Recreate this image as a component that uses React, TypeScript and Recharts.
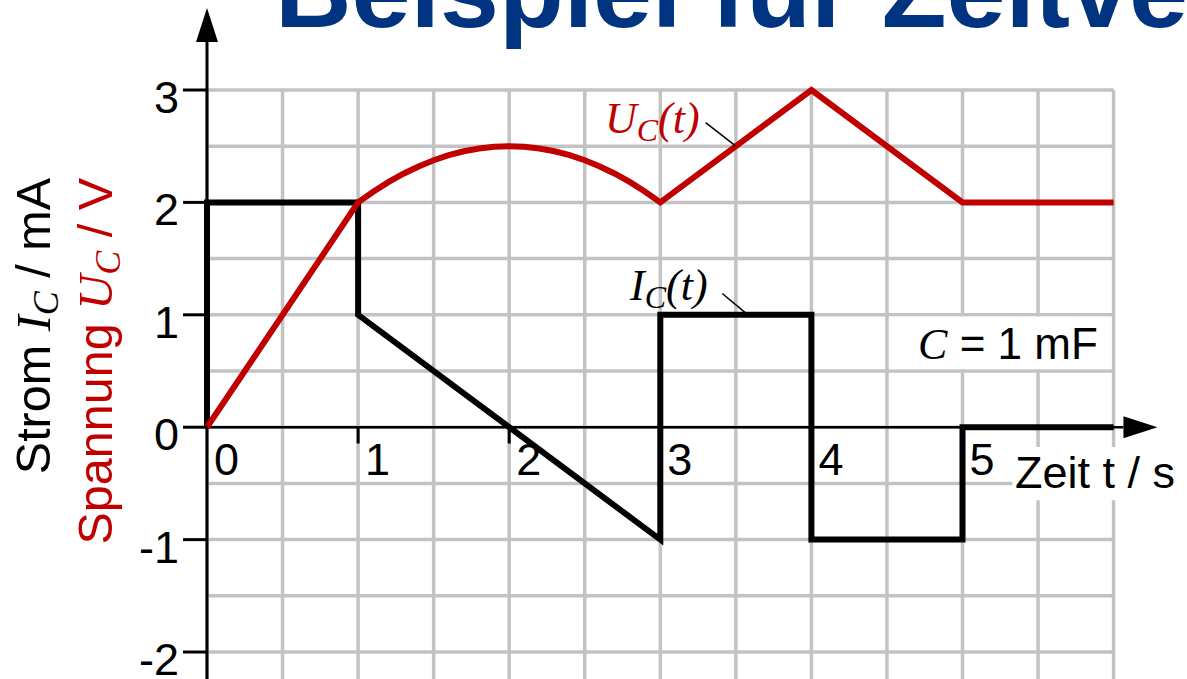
import React from 'react';
import {
  LineChart,
  Line,
  XAxis,
  YAxis,
  CartesianGrid,
  ReferenceLine,
  ReferenceDot,
  ReferenceArea,
  Customized,
} from 'recharts';

// Capacitor current I_C(t) in mA (step-wise, with a ramp between 1 s and 3 s)
const currentTimes = [0, 0, 1, 1, 3, 3, 4, 4, 5, 5, 6];
const currentValues = [0, 2, 2, 1, -1, 1, 1, -1, -1, 0, 0];

// Capacitor voltage U_C(t) in V
const voltageTimes = [
  0, 1, 1.1, 1.2, 1.3, 1.4, 1.5, 1.6, 1.7, 1.8, 1.9, 2, 2.1, 2.2, 2.3, 2.4, 2.5,
  2.6, 2.7, 2.8, 2.9, 3, 4, 5, 6,
];
const voltageValues = [
  0, 2, 2.095, 2.18, 2.255, 2.32, 2.375, 2.42, 2.455, 2.48, 2.495, 2.5, 2.495,
  2.48, 2.455, 2.42, 2.375, 2.32, 2.255, 2.18, 2.095, 2, 3, 2, 2,
];

const xTicks = [0, 1, 2, 3, 4, 5];
const xTickLabels = ['0', '1', '2', '3', '4', '5'];
const yTicks = [-2, -1, 0, 1, 2, 3];
const gridX = [0, 0.5, 1, 1.5, 2, 2.5, 3, 3.5, 4, 4.5, 5, 5.5, 6];
const gridY = [-2, -1.5, -1, -0.5, 0, 0.5, 1, 1.5, 2, 2.5, 3];

const currentData = currentTimes.map((t, i) => ({ t, v: currentValues[i] }));
const voltageData = voltageTimes.map((t, i) => ({ t, v: voltageValues[i] }));

const SANS = '"Liberation Sans", Arial, sans-serif';
const SERIF = '"Liberation Serif", "Times New Roman", serif';
const RED = '#c00000';
const GRID = '#c3c3c3';
const FS = 45;

const W = 1187;
const H = 679;

// axis line with a filled arrow head at its far end
const arrowShape = (strokeWidth: number) => (p: any) => {
  const x1 = Number(p.x1);
  const y1 = Number(p.y1);
  const x2 = Number(p.x2);
  const y2 = Number(p.y2);
  const dx = x2 - x1;
  const dy = y2 - y1;
  const len = Math.hypot(dx, dy) || 1;
  const ux = dx / len;
  const uy = dy / len;
  const L = 34;
  const hw = 11;
  const bx = x2 - ux * L;
  const by = y2 - uy * L;
  const nx = -uy;
  const ny = ux;
  return (
    <g>
      <line x1={x1} y1={y1} x2={bx} y2={by} stroke="#000" strokeWidth={strokeWidth} />
      <polygon
        points={`${x2},${y2} ${bx + nx * hw},${by + ny * hw} ${bx - nx * hw},${by - ny * hw}`}
        fill="#000"
      />
    </g>
  );
};

const YTick = (p: any) => (
  <text
    x={p.x - 2}
    y={p.y + 23}
    textAnchor="end"
    fontSize={FS}
    fontFamily={SANS}
    fill="#000"
  >
    {String(p.payload.value)}
  </text>
);

const Titles = () => (
  <g>
    <text x={275} y={27} fontSize={106} fontWeight="bold" fontFamily={SANS} fill="#003380">
      Beispiel für Zeitverläufe
    </text>
    <text
      x={50}
      y={178}
      transform="rotate(-90 50 178)"
      textAnchor="end"
      fontSize={48.5}
      fontFamily={SANS}
      fill="#000"
    >
      Strom{' '}
      <tspan fontFamily={SERIF} fontStyle="italic">I</tspan>
      <tspan fontFamily={SERIF} fontStyle="italic" fontSize={36} dy={8}>C</tspan>
      <tspan dy={-8}> / mA</tspan>
    </text>
    <text
      x={112}
      y={178}
      transform="rotate(-90 112 178)"
      textAnchor="end"
      fontSize={48.5}
      fontFamily={SANS}
      fill={RED}
    >
      Spannung{' '}
      <tspan fontFamily={SERIF} fontStyle="italic">U</tspan>
      <tspan fontFamily={SERIF} fontStyle="italic" fontSize={36} dy={8}>C</tspan>
      <tspan dy={-8}> / V</tspan>
    </text>
  </g>
);

export default function App() {
  return (
    <div
      style={{
        position: 'absolute',
        left: 0,
        top: 0,
        width: W,
        height: H,
        background: '#fff',
        overflow: 'hidden',
      }}
    >
      <LineChart width={W} height={H} margin={{ top: 90, right: 73.4, bottom: 0, left: 0 }}>
        <CartesianGrid
          horizontalValues={gridY}
          verticalValues={gridX}
          stroke={GRID}
          strokeWidth={3.5}
          strokeDasharray=""
        />
        <XAxis type="number" dataKey="t" domain={[0, 6]} hide />
        <YAxis
          type="number"
          dataKey="v"
          domain={[-2.24, 3]}
          ticks={yTicks}
          interval={0}
          width={207}
          tickSize={24}
          axisLine={false}
          tickLine={{ stroke: '#000', strokeWidth: 3 }}
          tick={<YTick />}
        />

        {/* white panels behind the annotations */}
        <ReferenceArea
          x1={4.515}
          x2={5.985}
          y1={0.515}
          y2={0.985}
          fill="#fff"
          fillOpacity={1}
          stroke="none"
          ifOverflow="visible"
        />
        <ReferenceArea
          x1={5.33}
          x2={6.6}
          y1={-0.65}
          y2={-0.175}
          fill="#fff"
          fillOpacity={1}
          stroke="none"
          ifOverflow="visible"
        />

        {/* axes with arrows */}
        <ReferenceLine
          segment={[
            { x: 0, y: -2.3 },
            { x: 0, y: 3.73 },
          ]}
          ifOverflow="visible"
          stroke="#000"
          shape={arrowShape(3)}
        />
        <ReferenceLine
          segment={[
            { x: 0, y: 0 },
            { x: 6.29, y: 0 },
          ]}
          ifOverflow="visible"
          stroke="#000"
          shape={arrowShape(2.5)}
        />
        {xTicks.slice(1).map((t) => (
          <ReferenceLine
            key={`tick-${t}`}
            segment={[
              { x: t, y: 0 },
              { x: t, y: -0.145 },
            ]}
            ifOverflow="visible"
            stroke="#000"
            strokeWidth={3}
          />
        ))}
        {xTicks.map((t, i) => (
          <ReferenceDot
            key={`lbl-${t}`}
            x={t}
            y={0}
            r={0}
            ifOverflow="visible"
            shape={(p: any) => (
              <text
                x={p.cx + 7}
                y={p.cy + 48}
                fontSize={FS}
                fontFamily={SANS}
                fill="#000"
              >
                {xTickLabels[i]}
              </text>
            )}
          />
        ))}

        <Line
          data={currentData}
          dataKey="v"
          type="linear"
          stroke="#000"
          strokeWidth={6}
          strokeLinejoin="miter"
          dot={false}
          activeDot={false}
          isAnimationActive={false}
        />
        <Line
          data={voltageData}
          dataKey="v"
          type="linear"
          stroke={RED}
          strokeWidth={6}
          strokeLinejoin="miter"
          dot={false}
          activeDot={false}
          isAnimationActive={false}
        />

        {/* leader lines of the curve labels */}
        <ReferenceLine
          segment={[
            { x: 3.3, y: 2.71 },
            { x: 3.5, y: 2.5 },
          ]}
          ifOverflow="visible"
          stroke="#000"
          strokeWidth={1.5}
        />
        <ReferenceLine
          segment={[
            { x: 3.41, y: 1.19 },
            { x: 3.58, y: 1.0 },
          ]}
          ifOverflow="visible"
          stroke="#000"
          strokeWidth={1.5}
        />

        <ReferenceDot
          x={2.634}
          y={2.616}
          r={0}
          ifOverflow="visible"
          shape={(p: any) => (
            <text x={p.cx} y={p.cy} fontSize={44} fontFamily={SERIF} fontStyle="italic" fill={RED}>
              U<tspan fontSize={32} dy={8}>C</tspan>
              <tspan dy={-8}>(t)</tspan>
            </text>
          )}
        />
        <ReferenceDot
          x={2.8}
          y={1.13}
          r={0}
          ifOverflow="visible"
          shape={(p: any) => (
            <text x={p.cx} y={p.cy} fontSize={44} fontFamily={SERIF} fontStyle="italic" fill="#000">
              I<tspan fontSize={32} dy={8}>C</tspan>
              <tspan dy={-8}>(t)</tspan>
            </text>
          )}
        />
        <ReferenceDot
          x={4.706}
          y={0.605}
          r={0}
          ifOverflow="visible"
          shape={(p: any) => (
            <text x={p.cx} y={p.cy} fontSize={44} fontFamily={SANS} fill="#000">
              <tspan fontFamily={SERIF} fontStyle="italic">C</tspan> = 1 mF
            </text>
          )}
        />
        <ReferenceDot
          x={5.347}
          y={-0.543}
          r={0}
          ifOverflow="visible"
          shape={(p: any) => (
            <text x={p.cx} y={p.cy} fontSize={FS} fontFamily={SANS} fill="#000">
              Zeit t / s
            </text>
          )}
        />

        <Customized component={<Titles />} />
      </LineChart>
    </div>
  );
}
